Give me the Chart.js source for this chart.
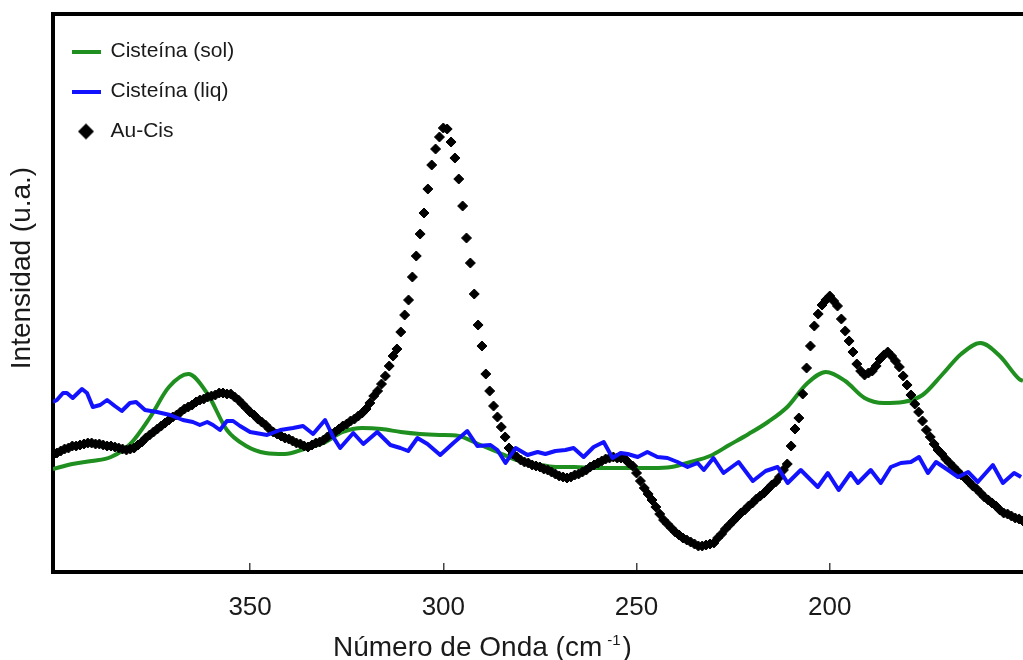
<html lang="es">
<head>
	<meta charset="utf-8">
	<script src="https://cdn.jsdelivr.net/npm/chart.js"></script>
	<style>
		html, body {
			margin: 0;
			background: white;
		}
	</style>
</head>
<body>
<canvas id="chart" width="1023" height="660"></canvas>
<script>

    // wavenumbers (cm-1) and intensities (a.u.)
    const solWave = [401, 396, 391, 386, 381, 376, 371, 366, 361, 356, 351, 346, 341, 336, 331, 326, 321, 316, 311, 306,
        301, 296, 291, 286, 281, 276, 271, 266, 261, 256, 251, 246, 241, 236, 231, 226, 221, 216, 211, 206,
        201, 196, 191, 186, 181, 176, 171, 166, 161, 156, 151, 150];
    const solValues = [103, 108, 111, 115, 128, 154, 185, 198, 178, 142, 126, 119, 118, 123, 129, 140, 144, 143, 140, 138,
        137, 136, 128, 120, 112, 108, 105, 105, 104, 104, 104, 104, 105, 110, 116, 127, 138, 150, 165, 188,
        200, 191, 174, 169, 170, 177, 197, 218, 229, 216, 193, 191];

    const liqWave = [401.0, 400.0, 398.4, 397.4, 395.9, 393.5, 392.2, 390.7, 388.8, 387.0,
        385.0, 383.2, 381.1, 379.5, 377.2, 374.1, 370.7, 367.4, 364.8, 363.0,
        361.1, 359.6, 357.8, 356.0, 354.4, 352.6, 350.0, 345.6, 342.2, 338.9,
        336.3, 333.7, 330.6, 328.5, 326.7, 323.3, 320.7, 317.1, 313.7, 311.1,
        309.1, 306.7, 304.1, 300.8, 297.4, 293.8, 291.2, 287.8, 286.0, 283.9,
        281.3, 278.2, 275.6, 273.6, 271.0, 268.4, 266.3, 263.7, 261.1, 258.5,
        256.2, 254.1, 252.3, 249.7, 247.2, 244.6, 242.0, 239.4, 236.8, 234.2,
        232.6, 230.1, 227.5, 223.6, 219.9, 216.6, 213.5, 210.9, 207.5, 203.1,
        200.5, 197.7, 194.6, 192.7, 189.4, 186.8, 184.2, 181.6, 179.0, 176.9,
        174.6, 172.5, 169.4, 166.8, 164.2, 161.7, 157.8, 155.2, 152.3, 150.5];
    const liqValues = [170, 172, 179, 179, 174, 183, 179, 165, 167, 172,
        166, 161, 169, 170, 162, 160, 157, 152, 150, 147,
        150, 147, 142, 151, 151, 146, 140, 137, 142, 144,
        146, 138, 152, 135, 124, 139, 128, 140, 127, 124,
        121, 134, 128, 117, 129, 141, 126, 127, 122, 109,
        124, 117, 120, 118, 121, 122, 124, 115, 125, 130,
        114, 119, 118, 115, 120, 115, 114, 110, 105, 109,
        102, 114, 99, 110, 91, 101, 105, 89, 102, 85,
        99, 82, 99, 89, 102, 89, 105, 109, 110, 115,
        99, 110, 102, 95, 100, 90, 107, 89, 99, 95];

    const auWave = [401, 400, 399, 398, 397, 396, 395, 394, 393, 392,
        391, 390, 389, 388, 387, 386, 385, 384, 383, 382,
        381, 380, 379, 378, 377, 376, 375, 374, 373, 372,
        371, 370, 369, 368, 367, 366, 365, 364, 363, 362,
        361, 360, 359, 358, 357, 356, 355, 354, 353, 352,
        351, 350, 349, 348, 347, 346, 345, 344, 343, 342,
        341, 340, 339, 338, 337, 336, 335, 334, 333, 332,
        331, 330, 329, 328, 327, 326, 325, 324, 323, 322,
        321, 320, 319, 318, 317, 316, 315, 314, 313, 312,
        311, 310, 309, 308, 307, 306, 305, 304, 303, 302,
        301, 300, 299, 298, 297, 296, 295, 294, 293, 292,
        291, 290, 289, 288, 287, 286, 285, 284, 283, 282,
        281, 280, 279, 278, 277, 276, 275, 274, 273, 272,
        271, 270, 269, 268, 267, 266, 265, 264, 263, 262,
        261, 260, 259, 258, 257, 256, 255, 254, 253, 252,
        251, 250, 249, 248, 247, 246, 245, 244, 243, 242,
        241, 240, 239, 238, 237, 236, 235, 234, 233, 232,
        231, 230, 229, 228, 227, 226, 225, 224, 223, 222,
        221, 220, 219, 218, 217, 216, 215, 214, 213, 212,
        211, 210, 209, 208, 207, 206, 205, 204, 203, 202,
        201, 200, 199, 198, 197, 196, 195, 194, 193, 192,
        191, 190, 189, 188, 187, 186, 185, 184, 183, 182,
        181, 180, 179, 178, 177, 176, 175, 174, 173, 172,
        171, 170, 169, 168, 167, 166, 165, 164, 163, 162,
        161, 160, 159, 158, 157, 156, 155, 154, 153, 152,
        151, 150];
    const auValues = [117, 119, 121, 123, 124, 126, 126, 127, 128, 129,
        129, 128, 128, 127, 126, 126, 125, 124, 123, 122,
        123, 124, 127, 130, 134, 137, 140, 143, 146, 149,
        152, 155, 157, 160, 163, 165, 167, 170, 172, 173,
        175, 176, 177, 179, 179, 178, 178, 175, 172, 168,
        164, 160, 157, 153, 150, 147, 143, 140, 138, 136,
        134, 133, 131, 129, 128, 126, 125, 127, 129, 130,
        132, 135, 138, 140, 143, 146, 148, 151, 153, 156,
        159, 163, 169, 176, 181, 188, 196, 206, 216, 223,
        240, 257, 272, 295, 316, 338, 359, 383, 407, 423,
        435, 444, 443, 430, 414, 393, 366, 334, 309, 278,
        247, 226, 198, 181, 166, 155, 145, 135, 124, 118,
        115, 112, 110, 109, 107, 106, 105, 103, 102, 100,
        98, 96, 95, 94, 95, 97, 98, 100, 102, 105,
        107, 109, 111, 113, 114, 115, 114, 114, 113, 109,
        106, 99, 91, 84, 78, 72, 65, 58, 52, 48,
        44, 40, 37, 34, 32, 30, 28, 26, 26, 27,
        28, 29, 34, 38, 43, 47, 51, 55, 59, 62,
        66, 69, 73, 76, 79, 83, 87, 90, 95, 102,
        108, 126, 143, 154, 178, 204, 226, 246, 258, 267,
        272, 276, 271, 266, 253, 241, 231, 220, 208, 201,
        197, 199, 201, 206, 213, 217, 220, 216, 211, 205,
        196, 187, 177, 168, 160, 151, 142, 135, 128, 122,
        118, 113, 109, 105, 101, 97, 94, 90, 86, 83,
        79, 75, 72, 69, 66, 62, 59, 58, 56, 54,
        53, 51];

    const xTicks = [350, 300, 250, 200];

    const FONT = '"Liberation Sans", Arial, Helvetica, sans-serif';
    const TEXT = '#1a1a1a';
    const GREEN = '#1f8f1f';
    const BLUE = '#1212ff';

    function toPoints(xs, ys) {
        return xs.map((x, i) => ({x: x, y: ys[i]}));
    }

    // little pictures for the legend keys
    function lineIcon(color) {
        const c = document.createElement('canvas');
        c.width = 29;
        c.height = 4;
        const g = c.getContext('2d');
        g.fillStyle = color;
        g.fillRect(0, 0, 29, 4);
        return c;
    }

    function diamondIcon() {
        const c = document.createElement('canvas');
        c.width = 18;
        c.height = 18;
        const g = c.getContext('2d');
        g.fillStyle = '#000';
        g.beginPath();
        g.moveTo(9, 1);
        g.lineTo(17, 9);
        g.lineTo(9, 17);
        g.lineTo(1, 9);
        g.closePath();
        g.fill();
        return c;
    }

    const legendIcons = [lineIcon(GREEN), lineIcon(BLUE), diamondIcon()];

    // top frame line and the two axis titles
    const framePlugin = {
        id: 'frame',
        afterDraw(chart) {
            const ctx = chart.ctx;
            const a = chart.chartArea;
            ctx.save();
            ctx.strokeStyle = '#000';
            ctx.lineWidth = 4;
            ctx.beginPath();
            ctx.moveTo(a.left - 2, a.top);
            ctx.lineTo(a.right, a.top);
            ctx.stroke();

            ctx.fillStyle = TEXT;
            ctx.textAlign = 'left';
            ctx.textBaseline = 'alphabetic';
            ctx.font = '28px ' + FONT;
            const main = 'Número de Onda (cm';
            const x0 = 333;
            const w = ctx.measureText(main).width;
            ctx.fillText(main, x0, 656);
            ctx.font = '15px ' + FONT;
            const sup = '-1';
            const w2 = ctx.measureText(sup).width;
            ctx.fillText(sup, x0 + w + 5, 645);
            ctx.font = '28px ' + FONT;
            ctx.fillText(')', x0 + w + 5 + w2 + 2, 656);

            ctx.translate(22, 268);
            ctx.rotate(-Math.PI / 2);
            ctx.textAlign = 'center';
            ctx.textBaseline = 'middle';
            ctx.fillText('Intensidad (u.a.)', 0, 0);
            ctx.restore();
        }
    };

    const ctx = document.getElementById('chart');

    var chart = new Chart(ctx, {
        type: 'line',
        data: {
            datasets: [
                {
                    label: 'Cisteína (sol)',
                    data: toPoints(solWave, solValues),
                    borderColor: GREEN,
                    borderWidth: 4,
                    pointRadius: 0,
                    cubicInterpolationMode: 'monotone',
                    order: 3
                },
                {
                    label: 'Cisteína (liq)',
                    data: toPoints(liqWave, liqValues),
                    borderColor: BLUE,
                    borderWidth: 4,
                    pointRadius: 0,
                    tension: 0,
                    borderJoinStyle: 'round',
                    order: 1
                },
                {
                    label: 'Au-Cis',
                    data: toPoints(auWave, auValues),
                    showLine: false,
                    pointStyle: 'rectRot',
                    pointRadius: 5,
                    pointBackgroundColor: '#000',
                    pointBorderColor: '#000',
                    pointBorderWidth: 1,
                    backgroundColor: '#000',
                    borderColor: '#000',
                    order: 2
                }
            ]
        },
        options: {
            responsive: false,
            animation: false,
            layout: {
                autoPadding: false,
                padding: {top: 14, right: 0, bottom: 0, left: 0}
            },
            scales: {
                x: {
                    type: 'linear',
                    reverse: true,
                    min: 150,
                    max: 401,
                    afterBuildTicks: (scale) => {
                        scale.ticks = xTicks.map(v => ({value: v}));
                    },
                    afterFit: (scale) => {
                        scale.height = 88;
                        scale.paddingLeft = 0;
                        scale.paddingRight = 0;
                    },
                    ticks: {
                        autoSkip: false,
                        maxRotation: 0,
                        padding: 29,
                        color: TEXT,
                        font: {family: FONT, size: 26}
                    },
                    grid: {
                        drawOnChartArea: false,
                        tickLength: -9,
                        color: '#444',
                        lineWidth: 1.5
                    },
                    border: {
                        color: '#000',
                        width: 4
                    }
                },
                y: {
                    min: 0,
                    max: 558,
                    afterFit: (scale) => {
                        scale.width = 53;
                        scale.paddingTop = 0;
                        scale.paddingBottom = 0;
                    },
                    ticks: {display: false},
                    grid: {display: false},
                    border: {
                        color: '#000',
                        width: 4
                    }
                }
            },
            plugins: {
                tooltip: {enabled: false},
                legend: {
                    position: 'chartArea',
                    align: 'start',
                    title: {
                        display: true,
                        text: ' ',
                        padding: 10.5,
                        font: {size: 1, lineHeight: 1}
                    },
                    labels: {
                        usePointStyle: true,
                        pointStyleWidth: 28,
                        padding: 19,
                        color: TEXT,
                        font: {family: FONT, size: 21},
                        sort: (a, b) => a.datasetIndex - b.datasetIndex,
                        generateLabels: (chart) => {
                            const items = Chart.defaults.plugins.legend.labels.generateLabels(chart);
                            items.forEach(item => {
                                item.pointStyle = legendIcons[item.datasetIndex];
                            });
                            return items;
                        }
                    }
                }
            }
        },
        plugins: [framePlugin]
    });

</script>
</body>
</html>
